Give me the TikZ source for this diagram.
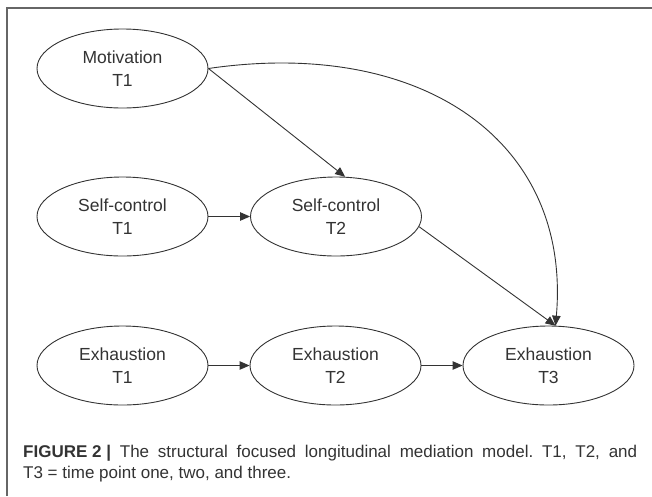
\documentclass[tikz,border=0pt]{standalone}
\usepackage{fontspec}
\setmainfont{Liberation Sans}
\usetikzlibrary{shapes.geometric,arrows.meta}
\definecolor{ink}{HTML}{333333}
\definecolor{framegray}{HTML}{666666}
\frenchspacing

\begin{document}
\begin{tikzpicture}[x=1pt,y=-1pt,
  var/.style={ellipse,draw=ink,line width=0.9pt,minimum width=171pt,minimum height=79pt,
    inner sep=0pt,align=center,text=ink,font=\fontsize{17.5}{22.7}\selectfont},
  arr/.style={draw=ink,line width=0.9pt,-{Triangle[length=10pt,width=8.5pt]}}]
  \useasboundingbox (0,0) rectangle (652,496);
  \draw[framegray,line width=1.5pt] (7,496) -- (7,8) -- (652,8);
  \node[var] (mot1) at (122.5,68.5) {Motivation\\T1};
  \node[var] (sc1) at (122.5,216.5) {Self-control\\T1};
  \node[var] (sc2) at (336,216.5) {Self-control\\T2};
  \node[var] (ex1) at (122.5,365.5) {Exhaustion\\T1};
  \node[var] (ex2) at (335.5,365.5) {Exhaustion\\T2};
  \node[var] (ex3) at (548.5,365.5) {Exhaustion\\T3};
  \draw[arr] (mot1.east) -- (sc2.77);
  \draw[arr] (mot1.east) .. controls +(212,-31) and +(16,-186) .. (ex3.80);
  \draw[arr] (sc1) -- (sc2);
  \draw[arr] (sc2.-7) -- (ex3.80);
  \draw[arr] (ex1) -- (ex2);
  \draw[arr] (ex2) -- (ex3);
  \node[anchor=north west,inner sep=0pt,text width=614pt,align=justify,text=ink,
    font=\fontsize{17}{20.5}\selectfont] (cap) at (23,445)
    {\textbf{\mbox{FIGURE 2 |}} The structural focused longitudinal mediation model. T1, T2, and\linebreak T3 = time point one, two, and three.};
\end{tikzpicture}
\end{document}
